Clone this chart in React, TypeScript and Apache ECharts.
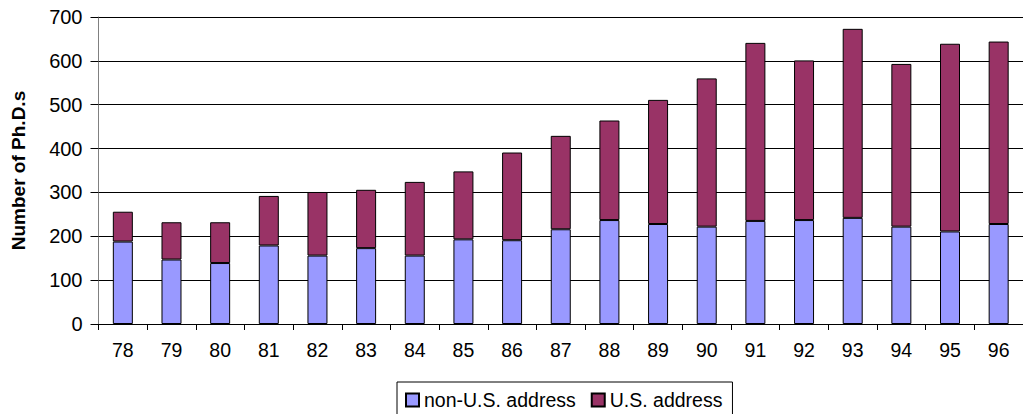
import React, { useEffect, useRef } from "react";
import * as echarts from "echarts";

const years = ["78", "79", "80", "81", "82", "83", "84", "85", "86", "87", "88", "89", "90", "91", "92", "93", "94", "95", "96"];
const nonUS = [188, 147, 139, 179, 156, 173, 156, 193, 191, 216, 237, 228, 222, 235, 237, 242, 222, 211, 228];
const us = [68, 85, 93, 113, 145, 133, 168, 155, 200, 213, 227, 283, 338, 406, 364, 431, 371, 428, 416];
const yTicks = { min: 0, max: 700, interval: 100 };

export default function App() {
  const ref = useRef<HTMLDivElement>(null);
  useEffect(() => {
    if (!ref.current) return;
    const chart = echarts.init(ref.current, null, { renderer: "svg" });
    const font = "Arial, 'Liberation Sans', sans-serif";
    chart.setOption({
      animation: false,
      textStyle: { fontFamily: font },
      grid: { left: 98.5, top: 17, bottom: 90, right: -7, containLabel: false },
      legend: {
        left: 397,
        top: 382,
        padding: [8, 10, 8, 8],
        itemWidth: 13,
        itemHeight: 13,
        itemGap: 15,
        borderColor: "#000",
        borderWidth: 1,
        icon: "rect",
        textStyle: { fontSize: 19.5, color: "#000", fontFamily: font },
        data: ["non-U.S. address", "U.S. address"],
      },
      xAxis: {
        type: "category",
        data: years,
        axisLine: { lineStyle: { color: "#000", width: 1 } },
        axisTick: { show: true, length: 6, lineStyle: { color: "#000" } },
        axisLabel: { fontSize: 19.5, color: "#000", margin: 16, fontFamily: font },
      },
      yAxis: {
        type: "value",
        min: yTicks.min,
        max: yTicks.max,
        interval: yTicks.interval,
        name: "Number of Ph.D.s",
        nameLocation: "middle",
        nameGap: 71,
        nameRotate: 90,
        nameTextStyle: { fontSize: 19, fontWeight: "bold", color: "#000", fontFamily: font },
        axisLine: { show: true, lineStyle: { color: "#808080", width: 1 } },
        axisTick: { show: true, length: 8, lineStyle: { color: "#000" } },
        axisLabel: { fontSize: 20, color: "#000", margin: 16, fontFamily: font },
        splitLine: { show: true, lineStyle: { color: "#000", width: 1 } },
      },
      series: [
        {
          name: "non-U.S. address",
          type: "bar",
          stack: "total",
          data: nonUS,
          barWidth: 20,
          itemStyle: { color: "#9999FF", borderColor: "#000", borderWidth: 1 },
        },
        {
          name: "U.S. address",
          type: "bar",
          stack: "total",
          data: us,
          barWidth: 20,
          itemStyle: { color: "#993366", borderColor: "#000", borderWidth: 1 },
        },
      ],
    });
    return () => chart.dispose();
  }, []);
  return (
    <div
      ref={ref}
      style={{ position: "absolute", left: 0, top: 0, width: 1023, height: 414, background: "#fff" }}
    />
  );
}
